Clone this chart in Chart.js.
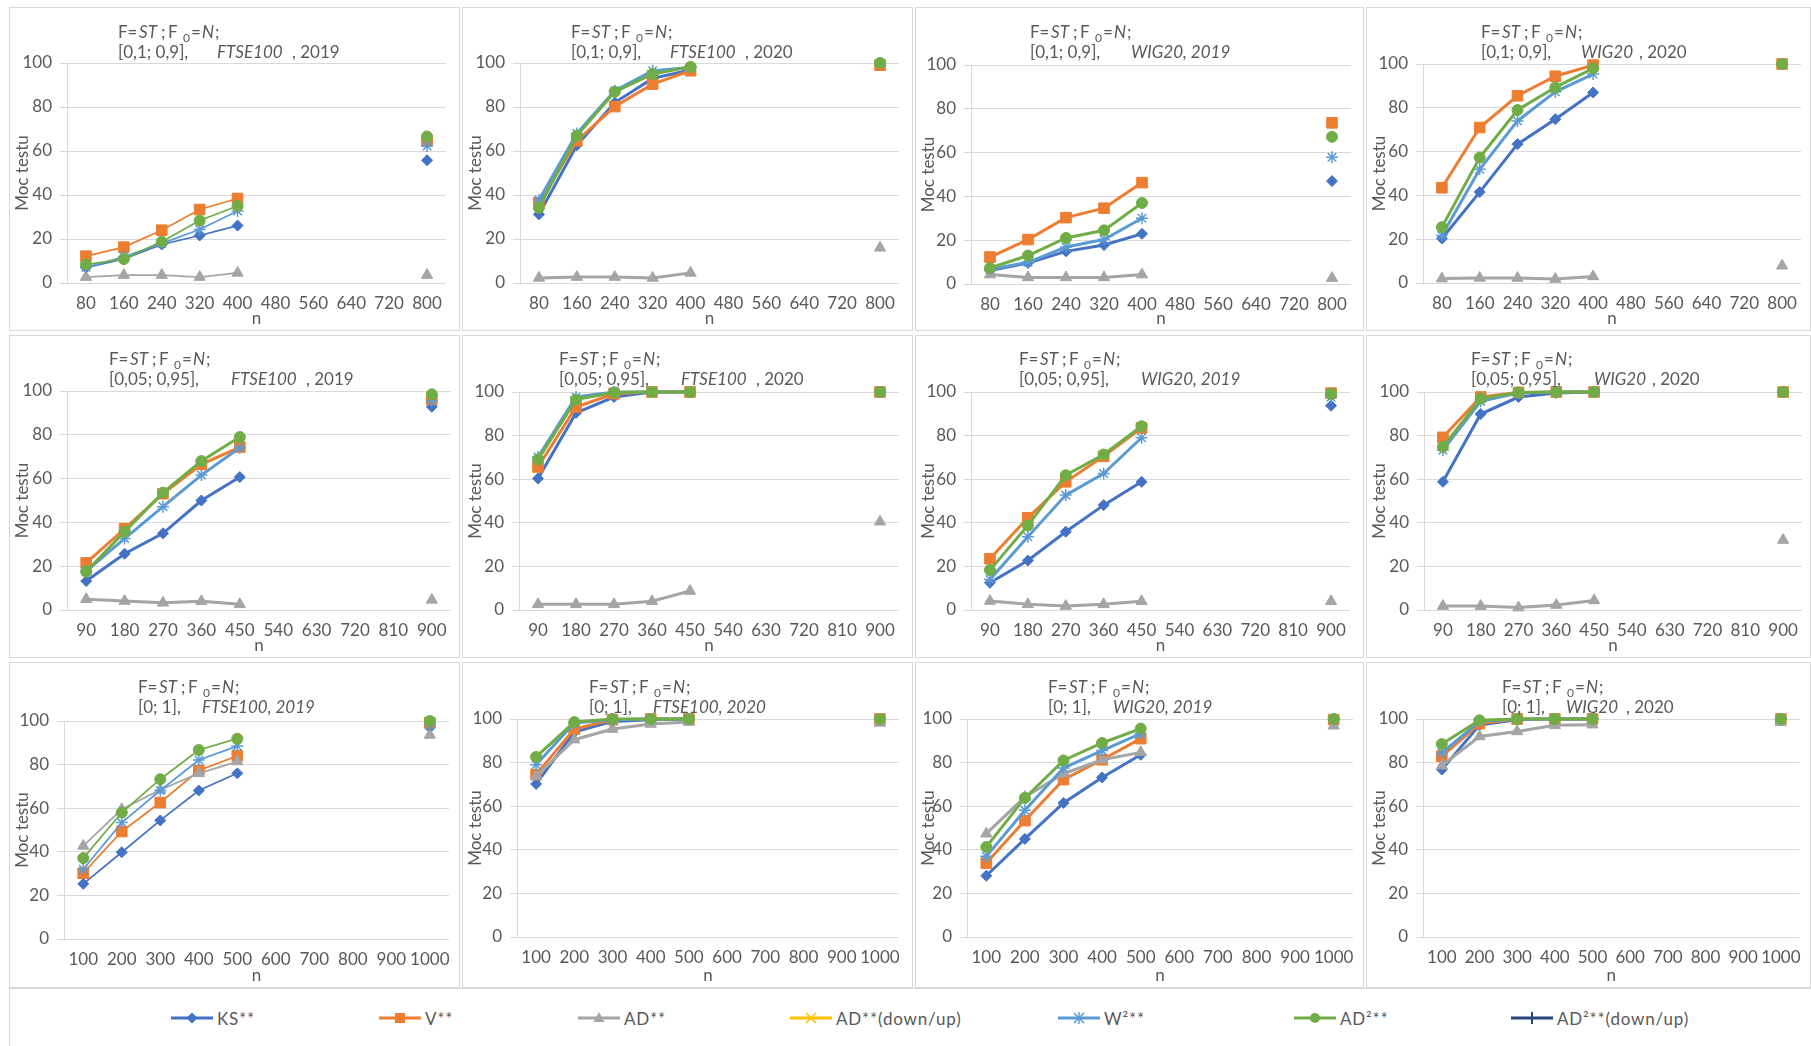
<!DOCTYPE html>
<html>
<head>
<meta charset="utf-8">
<script src="https://cdn.jsdelivr.net/npm/chart.js@4.4.0/dist/chart.umd.min.js"></script>
<style>
  body { margin: 0; width: 1811px; height: 1046px; position: relative; background: #fff; overflow: hidden; font-family: Lato, sans-serif; }
  .panel { position: absolute; box-shadow: inset 0 0 0 1px #d9d9d9; }
  .panel canvas { position: absolute; left: 0; top: 0; }
  #legend { position: absolute; left: 9px; top: 988px; width: 1810px; height: 70px; box-shadow: inset 0 0 0 1px #d9d9d9; }
  .entry { position: absolute; top: 20px; height: 20px; display: flex; align-items: center; color: #595959; font-size: 17px; letter-spacing: 0.8px; white-space: nowrap; }
  .entry svg { margin-right: 4px; }
</style>
</head>
<body>
<div id="legend"></div>
<script>
const _ = null;

// x categories (n) for the three rows of panels
const nRow1 = [80, 160, 240, 320, 400, 480, 560, 640, 720, 800];
const nRow2 = [90, 180, 270, 360, 450, 540, 630, 720, 810, 900];
const nRow3 = [100, 200, 300, 400, 500, 600, 700, 800, 900, 1000];

// test power, one row per panel (left to right, top to bottom)
const KS = [
  [7, 11, 17.5, 21.6, 26.1, _, _, _, _, 55.8],
  [31.2, 62.6, 82, 93, 96.8, _, _, _, _, 100],
  [6.1, 9.6, 14.9, 17.8, 22.9, _, _, _, _, 47],
  [20.3, 41.5, 63.4, 74.8, 87, _, _, _, _, 100],
  [13.2, 25.7, 35, 50, 60.7, _, _, _, _, 92.8],
  [60.3, 90.4, 97.7, 100, 100, _, _, _, _, 100],
  [12.5, 22.7, 35.9, 48.1, 58.8, _, _, _, _, 93.7],
  [58.8, 89.9, 97.7, 99.5, 100, _, _, _, _, 100],
  [25.3, 39.8, 54.4, 68.1, 76, _, _, _, _, 97],
  [70.2, 94, 98.9, 99.7, 100, _, _, _, _, 100],
  [28.1, 45, 61.5, 73.2, 83.6, _, _, _, _, 100],
  [76.8, 97.2, 99.7, 100, 100, _, _, _, _, 100]
];
const V = [
  [12.2, 16.3, 24, 33.4, 38.4, _, _, _, _, 64.6],
  [36.5, 64.6, 80.2, 90.4, 96.5, _, _, _, _, 99],
  [12.3, 20.3, 30.3, 34.6, 46.3, _, _, _, _, 73.6],
  [43.5, 71, 85.5, 94.4, 99.5, _, _, _, _, 100],
  [21.5, 37.1, 53.1, 66.5, 74.4, _, _, _, _, 96.2],
  [65.6, 93.1, 99.2, 100, 100, _, _, _, _, 100],
  [23.5, 42.3, 58.8, 70.5, 83.5, _, _, _, _, 99.5],
  [79.2, 97.7, 99.8, 100, 100, _, _, _, _, 100],
  [30.2, 49.3, 62.6, 77.3, 84, _, _, _, _, 99.2],
  [74.5, 95.4, 99.7, 100, 100, _, _, _, _, 100],
  [33.9, 53.4, 72.2, 81.3, 91, _, _, _, _, 99.7],
  [82.9, 97.9, 100, 100, 100, _, _, _, _, 100]
];
const AD = [
  [2.7, 3.6, 3.6, 2.7, 4.6, _, _, _, _, 3.6],
  [2.3, 2.7, 2.7, 2.3, 4.6, _, _, _, _, 16],
  [4.3, 3, 3, 3, 4.3, _, _, _, _, 2.7],
  [2, 2.3, 2.3, 1.8, 3, _, _, _, _, 7.9],
  [4.9, 4.1, 3.3, 4, 2.6, _, _, _, _, 4.6],
  [2.6, 2.6, 2.6, 4, 8.7, _, _, _, _, 40.5],
  [4.1, 2.6, 1.8, 2.6, 4, _, _, _, _, 4],
  [1.8, 1.8, 1.1, 2.3, 4.4, _, _, _, _, 32.1],
  [42.7, 59.5, 68.4, 76, 81.4, _, _, _, _, 93.6],
  [73.7, 90.5, 95.4, 97.7, 98.6, _, _, _, _, 98.2],
  [47.4, 64.2, 74.9, 81.3, 84.7, _, _, _, _, 96.9],
  [78.6, 92, 94.3, 97.1, 97.4, _, _, _, _, 98.5]
];
const W2 = [
  [7.1, 11.9, 18, 24.3, 32.7, _, _, _, _, 62.3],
  [37.7, 68, 87.4, 96.5, 98, _, _, _, _, 100],
  [6.6, 9.9, 16.9, 20.3, 30, _, _, _, _, 57.9],
  [21.7, 51.9, 74, 87.3, 95.4, _, _, _, _, 100],
  [17.8, 32.6, 47.2, 61.6, 74.1, _, _, _, _, 95.4],
  [70.2, 97.7, 100, 100, 100, _, _, _, _, 100],
  [14, 33.6, 52.7, 62.6, 79, _, _, _, _, 97.6],
  [73.3, 95.7, 99.5, 100, 100, _, _, _, _, 100],
  [32, 53.4, 68.1, 82.1, 88.5, _, _, _, _, 98],
  [79, 98.2, 99.7, 100, 100, _, _, _, _, 100],
  [37, 58.1, 77.5, 85.5, 93.3, _, _, _, _, 100],
  [84.4, 98.9, 100, 100, 100, _, _, _, _, 100]
];
const AD2 = [
  [8.4, 10.9, 18.8, 28.4, 35, _, _, _, _, 66.6],
  [34.2, 66.9, 86.9, 95, 98.3, _, _, _, _, 100],
  [7.3, 13, 21, 24.5, 37, _, _, _, _, 67.2],
  [25.5, 57.3, 79, 89.3, 98, _, _, _, _, 100],
  [17.5, 35.8, 53.6, 68, 79, _, _, _, _, 98.5],
  [69, 96.5, 99.8, 100, 100, _, _, _, _, 100],
  [18.3, 38.8, 61.8, 71.3, 84.3, _, _, _, _, 99.2],
  [74.8, 97, 99.8, 100, 100, _, _, _, _, 100],
  [37.1, 58, 73.3, 86.7, 91.9, _, _, _, _, 100],
  [82.6, 98.6, 100, 100, 100, _, _, _, _, 100],
  [41.3, 63.8, 81, 89, 95.6, _, _, _, _, 100],
  [88.5, 99.4, 100, 100, 100, _, _, _, _, 100]
];

const seriesNames = ["KS**", "V**", "AD**", "AD**(down/up)", "W²**", "AD²**", "AD²**(down/up)"];
const seriesColors = ["#4472C4", "#ED7D31", "#A5A5A5", "#FFC000", "#5B9BD5", "#70AD47", "#264478"];
const seriesMarkers = ["rectRot", "rect", "triangle", "crossRot", "star", "circle", "cross"];
const seriesData = [KS, V, AD, null, W2, AD2, null];
const markerRadius = { rectRot: 5.5, rect: 7.5, triangle: 6.5, crossRot: 5, star: 6, circle: 5.5, cross: 6 };

// panel titles: [x, text, italic]
const titleLine2 = [
  [[109, "[0,1; 0,9],"], [208, "FTSE100", 1], [283, ", 2019"]],
  [[109, "[0,1; 0,9],"], [208, "FTSE100", 1], [283, ", 2020"]],
  [[115, "[0,1; 0,9],"], [216, "WIG20, 2019", 1]],
  [[115, "[0,1; 0,9],"], [215, "WIG20", 1], [273, ", 2020"]],
  [[100, "[0,05; 0,95],"], [222, "FTSE100", 1], [297, ", 2019"]],
  [[97, "[0,05; 0,95],"], [219, "FTSE100", 1], [294, ", 2020"]],
  [[104, "[0,05; 0,95],"], [226, "WIG20, 2019", 1]],
  [[105, "[0,05; 0,95],"], [228, "WIG20", 1], [286, ", 2020"]],
  [[129, "[0; 1],"], [193, "FTSE100, 2019", 1]],
  [[127, "[0; 1],"], [191, "FTSE100, 2020", 1]],
  [[133, "[0; 1],"], [198, "WIG20, 2019", 1]],
  [[136, "[0; 1],"], [200, "WIG20", 1], [260, ", 2020"]]
];
// "F= ST ; F0=N ;" pieces: [dx, text, style]
const titleLine1 = [[0, "F=", ""], [21, "ST", "i"], [43, ";", ""], [50, "F", ""], [65, "0", "sub"], [73, "=", ""], [84, "N", "i"], [97, ";", ""]];

// layout
const colLeft = [9, 462, 915, 1366];
const colWidth = [451, 451, 449, 445];
const rowTop = [7, 335, 662];
const rowHeight = [324, 323, 326];
// [plot top, plot left, plot right, plot bottom] relative to the panel
const plotBox = [
  [56, 58, 437, 276], [56, 58, 437, 276], [58, 56, 436, 277], [57, 57, 435, 276],
  [56, 58, 442, 275], [57, 57, 437, 275], [57, 56, 435, 275], [57, 58, 436, 275],
  [59, 55, 442, 277], [57, 55, 437, 275], [57, 52, 438, 275], [57, 57, 438, 275]
];
const lineWidths = [1.75, 3, 3, 3, 3, 3, 3, 3, 1.75, 3, 3, 3];
const titleRowY = [[26, 46], [25, 45], [26, 46]];

const textColor = "#595959";
const gridColor = "#d9d9d9";
const fontSize = 17;

const titlePlugin = {
  id: "panelTitle",
  afterDraw(chart, args, opts) {
    const ctx = chart.ctx;
    ctx.save();
    ctx.fillStyle = textColor;
    ctx.textBaseline = "middle";
    ctx.textAlign = "left";
    titleLine1.forEach(([dx, t, st]) => {
      ctx.font = (st === "i" ? "italic " : "") + (st === "sub" ? "12px" : fontSize + "px") + " Lato";
      ctx.fillText(t, opts.x1 + dx, opts.y1 + (st === "sub" ? 5 : 0));
    });
    opts.line2.forEach(([x, t, it]) => {
      ctx.font = (it ? "italic " : "") + fontSize + "px Lato";
      ctx.fillText(t, x, opts.y2);
    });
    ctx.restore();
  }
};

function makePanel(p) {
  const row = Math.floor(p / 4), col = p % 4;
  const w = colWidth[col], h = rowHeight[row];
  const [top, left, right, bottom] = plotBox[p];
  const labels = [nRow1, nRow2, nRow3][row];

  const div = document.createElement("div");
  div.className = "panel";
  div.style.left = colLeft[col] + "px";
  div.style.top = rowTop[row] + "px";
  div.style.width = w + "px";
  div.style.height = h + "px";
  const canvas = document.createElement("canvas");
  canvas.width = w;
  canvas.height = h;
  div.appendChild(canvas);
  document.body.appendChild(div);

  const datasets = [];
  seriesData.forEach((d, i) => {
    if (!d) return;
    const m = seriesMarkers[i];
    datasets.push({
      label: seriesNames[i],
      data: d[p],
      borderColor: seriesColors[i],
      backgroundColor: seriesColors[i],
      borderWidth: lineWidths[p],
      pointStyle: m,
      pointRadius: markerRadius[m],
      pointBorderWidth: m === "star" ? 1.5 : 1,
      pointBackgroundColor: seriesColors[i],
      pointBorderColor: seriesColors[i],
      tension: 0,
      clip: false,
      order: 10 - i
    });
  });

  const font = { family: "Lato", size: fontSize };
  new Chart(canvas, {
    type: "line",
    data: { labels, datasets },
    plugins: [titlePlugin],
    options: {
      responsive: false,
      animation: false,
      layout: { padding: { top: top, right: w - right, left: 0, bottom: 0 } },
      plugins: {
        legend: { display: false },
        tooltip: { enabled: false },
        panelTitle: { x1: titleLine2[p][0][0], y1: titleRowY[row][0], y2: titleRowY[row][1], line2: titleLine2[p] }
      },
      scales: {
        x: {
          offset: true,
          grid: { display: false, drawTicks: false },
          border: { display: false },
          ticks: { color: textColor, font, padding: 10, autoSkip: false, maxRotation: 0 },
          title: { display: true, text: "n", color: textColor, font, padding: { top: 0, bottom: 2 } },
          afterFit: (s) => { s.height = h - bottom; }
        },
        y: {
          min: 0,
          max: 100,
          grid: { color: gridColor, lineWidth: 1, tickLength: 7, drawTicks: true },
          border: { display: true, color: gridColor },
          ticks: { stepSize: 20, color: textColor, font, padding: 8 },
          title: { display: true, text: "Moc testu", color: textColor, font, padding: { top: 3, bottom: 0 } },
          afterFit: (s) => { s.width = left; }
        }
      }
    }
  });
}

function markerSvg(m, c) {
  const x = 21, y = 8;
  switch (m) {
    case "rectRot": return `<polygon points="${x},${y - 5.5} ${x + 5.5},${y} ${x},${y + 5.5} ${x - 5.5},${y}" fill="${c}"/>`;
    case "rect": return `<rect x="${x - 5}" y="${y - 5}" width="10" height="10" fill="${c}"/>`;
    case "triangle": return `<polygon points="${x},${y - 6} ${x + 5.5},${y + 4} ${x - 5.5},${y + 4}" fill="${c}"/>`;
    case "circle": return `<circle cx="${x}" cy="${y}" r="5" fill="${c}"/>`;
    case "crossRot": return `<path d="M${x - 5} ${y - 5}L${x + 5} ${y + 5}M${x + 5} ${y - 5}L${x - 5} ${y + 5}" stroke="${c}" stroke-width="1.5"/>`;
    case "star": return `<path d="M${x - 5} ${y - 5}L${x + 5} ${y + 5}M${x + 5} ${y - 5}L${x - 5} ${y + 5}M${x} ${y - 6}L${x} ${y + 6}" stroke="${c}" stroke-width="1.5"/>`;
    case "cross": return `<path d="M${x} ${y - 6}L${x} ${y + 6}" stroke="${c}" stroke-width="2"/>`;
  }
  return "";
}

const legendLeft = [162, 370, 569, 781, 1049, 1285, 1502];
function buildLegend() {
  const box = document.getElementById("legend");
  seriesNames.forEach((name, i) => {
    const e = document.createElement("div");
    e.className = "entry";
    e.style.left = legendLeft[i] + "px";
    e.innerHTML = `<svg width="42" height="16"><line x1="0" y1="8" x2="42" y2="8" stroke="${seriesColors[i]}" stroke-width="3"/>${markerSvg(seriesMarkers[i], seriesColors[i])}</svg><span>${name}</span>`;
    box.appendChild(e);
  });
}

function build() {
  for (let p = 0; p < 12; p++) makePanel(p);
  buildLegend();
}

Promise.all([document.fonts.load("17px Lato"), document.fonts.load("italic 17px Lato")]).then(build, build);
</script>
</body>
</html>
